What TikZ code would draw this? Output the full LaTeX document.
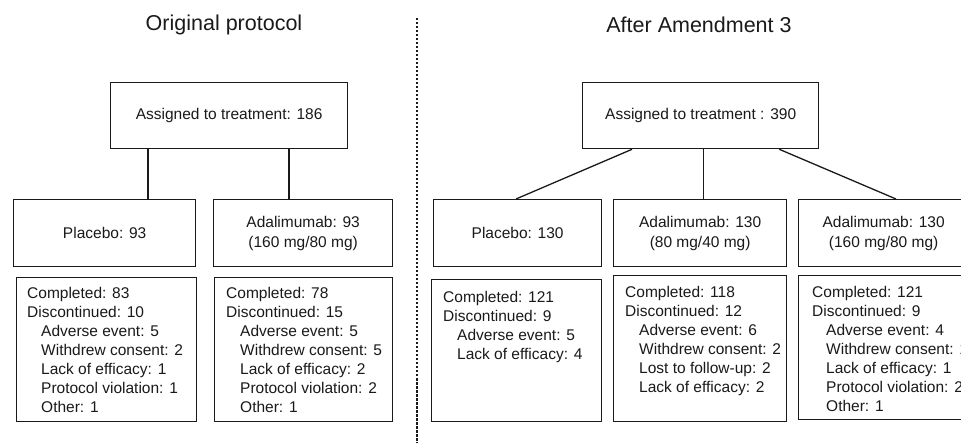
\documentclass[tikz,border=0pt]{standalone}
\usepackage{fontspec}
\setmainfont{Liberation Sans}
\usetikzlibrary{calc}
\definecolor{ink}{HTML}{1A1A1A}
\tikzset{
  every node/.style={text=ink},
  boxline/.style={draw=ink, line width=1.3pt},
  frame/.style={boxline, rectangle, inner sep=0pt, anchor=north west},
  armtext/.style={font=\fontsize{15.5}{20}\selectfont, align=center, inner sep=0pt},
  listtext/.style={font=\fontsize{15.5}{19}\selectfont, align=left, inner sep=0pt, anchor=north west},
  titletext/.style={font=\fontsize{21.5}{24}\selectfont, inner sep=0pt},
  link/.style={draw=ink, line width=1.3pt},
  divider/.style={draw=ink, line width=1.5pt, dash pattern=on 2.5pt off 1.5pt}
}
\newcommand{\ind}{\hspace*{14pt}}
\begin{document}
\begin{tikzpicture}[x=1pt, y=-1pt]
\clip (0,0) rectangle (961,443);
\fill[white] (0,0) rectangle (961,443);

% titles
\node[titletext] (title1) at (224,25) {Original protocol};
\node[titletext] (title2) at (699,25) {After Amendment 3};

% divider
\coordinate (divtop) at (417,18);
\coordinate (divbot) at (417,443);
\draw[divider] (divtop) -- (divbot);

% ---------------- Original protocol
\node[frame, minimum width=237pt, minimum height=66pt] (top1) at (110,82) {};
\node[armtext] (top1t) at (top1.center) {Assigned to treatment: 186};

\node[frame, minimum width=182pt, minimum height=67pt] (pl1) at (13,199) {};
\node[armtext] (pl1t) at (pl1.center) {Placebo: 93};
\node[frame, minimum width=179pt, minimum height=67pt] (ad1) at (213,199) {};
\node[armtext] (ad1t) at (ad1.center) {Adalimumab: 93\\(160 mg/80 mg)};

\draw[link] ([xshift=38pt]top1.south west) -- ([xshift=38pt]top1.south west |- pl1.north);
\draw[link] ([xshift=179pt]top1.south west) -- ([xshift=179pt]top1.south west |- ad1.north);

\node[frame, minimum width=180pt, minimum height=144pt] (pl1d) at (16,277) {};
\node[listtext] (pl1dt) at (27,287) {Completed: 83\\Discontinued: 10\\\ind Adverse event: 5\\\ind Withdrew consent: 2\\\ind Lack of efficacy: 1\\\ind Protocol violation: 1\\\ind Other: 1};
\node[frame, minimum width=178pt, minimum height=144pt] (ad1d) at (214,277) {};
\node[listtext] (ad1dt) at (226,287) {Completed: 78\\Discontinued: 15\\\ind Adverse event: 5\\\ind Withdrew consent: 5\\\ind Lack of efficacy: 2\\\ind Protocol violation: 2\\\ind Other: 1};

% ---------------- After Amendment 3
\node[frame, minimum width=236pt, minimum height=66pt] (top2) at (582,82) {};
\node[armtext] (top2t) at (top2.center) {Assigned to treatment : 390};

\node[frame, minimum width=168pt, minimum height=67pt] (pl2) at (433,199) {};
\node[armtext] (pl2t) at (pl2.center) {Placebo: 130};
\node[frame, minimum width=173pt, minimum height=67pt] (ad2) at (613,199) {};
\node[armtext] (ad2t) at (ad2.center) {Adalimumab: 130\\(80 mg/40 mg)};
\node[frame, minimum width=170pt, minimum height=67pt] (ad3) at (798,199) {};
\node[armtext] (ad3t) at (ad3.center) {Adalimumab: 130\\(160 mg/80 mg)};

\coordinate (l2a) at ([xshift=83pt]pl2.north west);
\coordinate (l2c) at ([xshift=98pt]ad3.north west);
\draw[link] ([xshift=50pt]top2.south west) -- (l2a);
\draw[link] ([xshift=3pt]top2.south) -- ([xshift=3pt]top2.south |- ad2.north);
\draw[link] ([xshift=-40pt]top2.south east) -- (l2c);

\node[frame, minimum width=170pt, minimum height=142pt] (pl2d) at (431,279) {};
\node[listtext] (pl2dt) at (443,291) {Completed: 121\\Discontinued: 9\\\ind Adverse event: 5\\\ind Lack of efficacy: 4};
\node[frame, minimum width=173pt, minimum height=146pt] (ad2d) at (613,275) {};
\node[listtext] (ad2dt) at (625,286) {Completed: 118\\Discontinued: 12\\\ind Adverse event: 6\\\ind Withdrew consent: 2\\\ind Lost to follow-up: 2\\\ind Lack of efficacy: 2};
\node[frame, minimum width=170pt, minimum height=144pt] (ad3d) at (798,275) {};
\node[listtext] (ad3dt) at (812,286) {Completed: 121\\Discontinued: 9\\\ind Adverse event: 4\\\ind Withdrew consent: 1\\\ind Lack of efficacy: 1\\\ind Protocol violation: 2\\\ind Other: 1};
\end{tikzpicture}
\end{document}
